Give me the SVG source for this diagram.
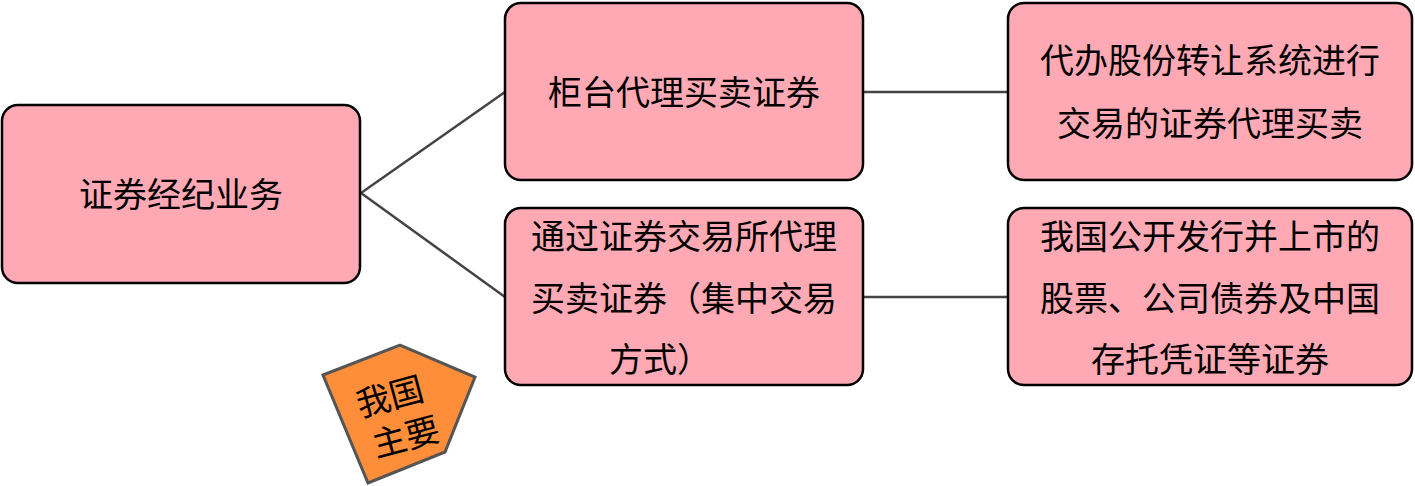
<svg xmlns="http://www.w3.org/2000/svg" width="1415" height="486" viewBox="0 0 1415 486">
<style>
.n{fill:#ffa9b4;stroke:#000;stroke-width:2.5}
text{font-family:"Noto Sans CJK SC",sans-serif;font-size:34px;fill:#000;text-anchor:middle}
.c{stroke:#444;stroke-width:2.5;fill:none}
</style>
<g id="connectors">
<path class="c" d="M361,193 L505,92 M361,193 L505,297 M863,92 L1008,92 M863,297 L1008,297"/>
</g>
<g id="n1"><rect class="n" x="2" y="105" width="358" height="178" rx="16"/><text x="181" y="207">证券经纪业务</text></g>
<g id="n2"><rect class="n" x="505" y="3" width="358" height="177" rx="16"/><text x="684" y="105">柜台代理买卖证券</text></g>
<g id="n3"><rect class="n" x="505" y="208" width="358" height="177" rx="16"/><text x="684" y="249">通过证券交易所代理</text><text x="684" y="311">买卖证券（集中交易</text><text x="660" y="372">方式）</text></g>
<g id="n4"><rect class="n" x="1008" y="3" width="404" height="177" rx="16"/><text x="1210" y="73">代办股份转让系统进行</text><text x="1210" y="136">交易的证券代理买卖</text></g>
<g id="n5"><rect class="n" x="1008" y="208" width="404" height="177" rx="16"/><text x="1210" y="249">我国公开发行并上市的</text><text x="1210" y="311">股票、公司债券及中国</text><text x="1210" y="372">存托凭证等证券</text></g>
<g id="tag"><polygon points="323,375 400,345 475,377 445,452 368,483" fill="#ff8e3b" stroke="#555" stroke-width="3"/>
<g transform="rotate(-15 400 415)"><text x="395" y="407">我国</text><text x="400" y="450">主要</text></g></g>
</svg>
